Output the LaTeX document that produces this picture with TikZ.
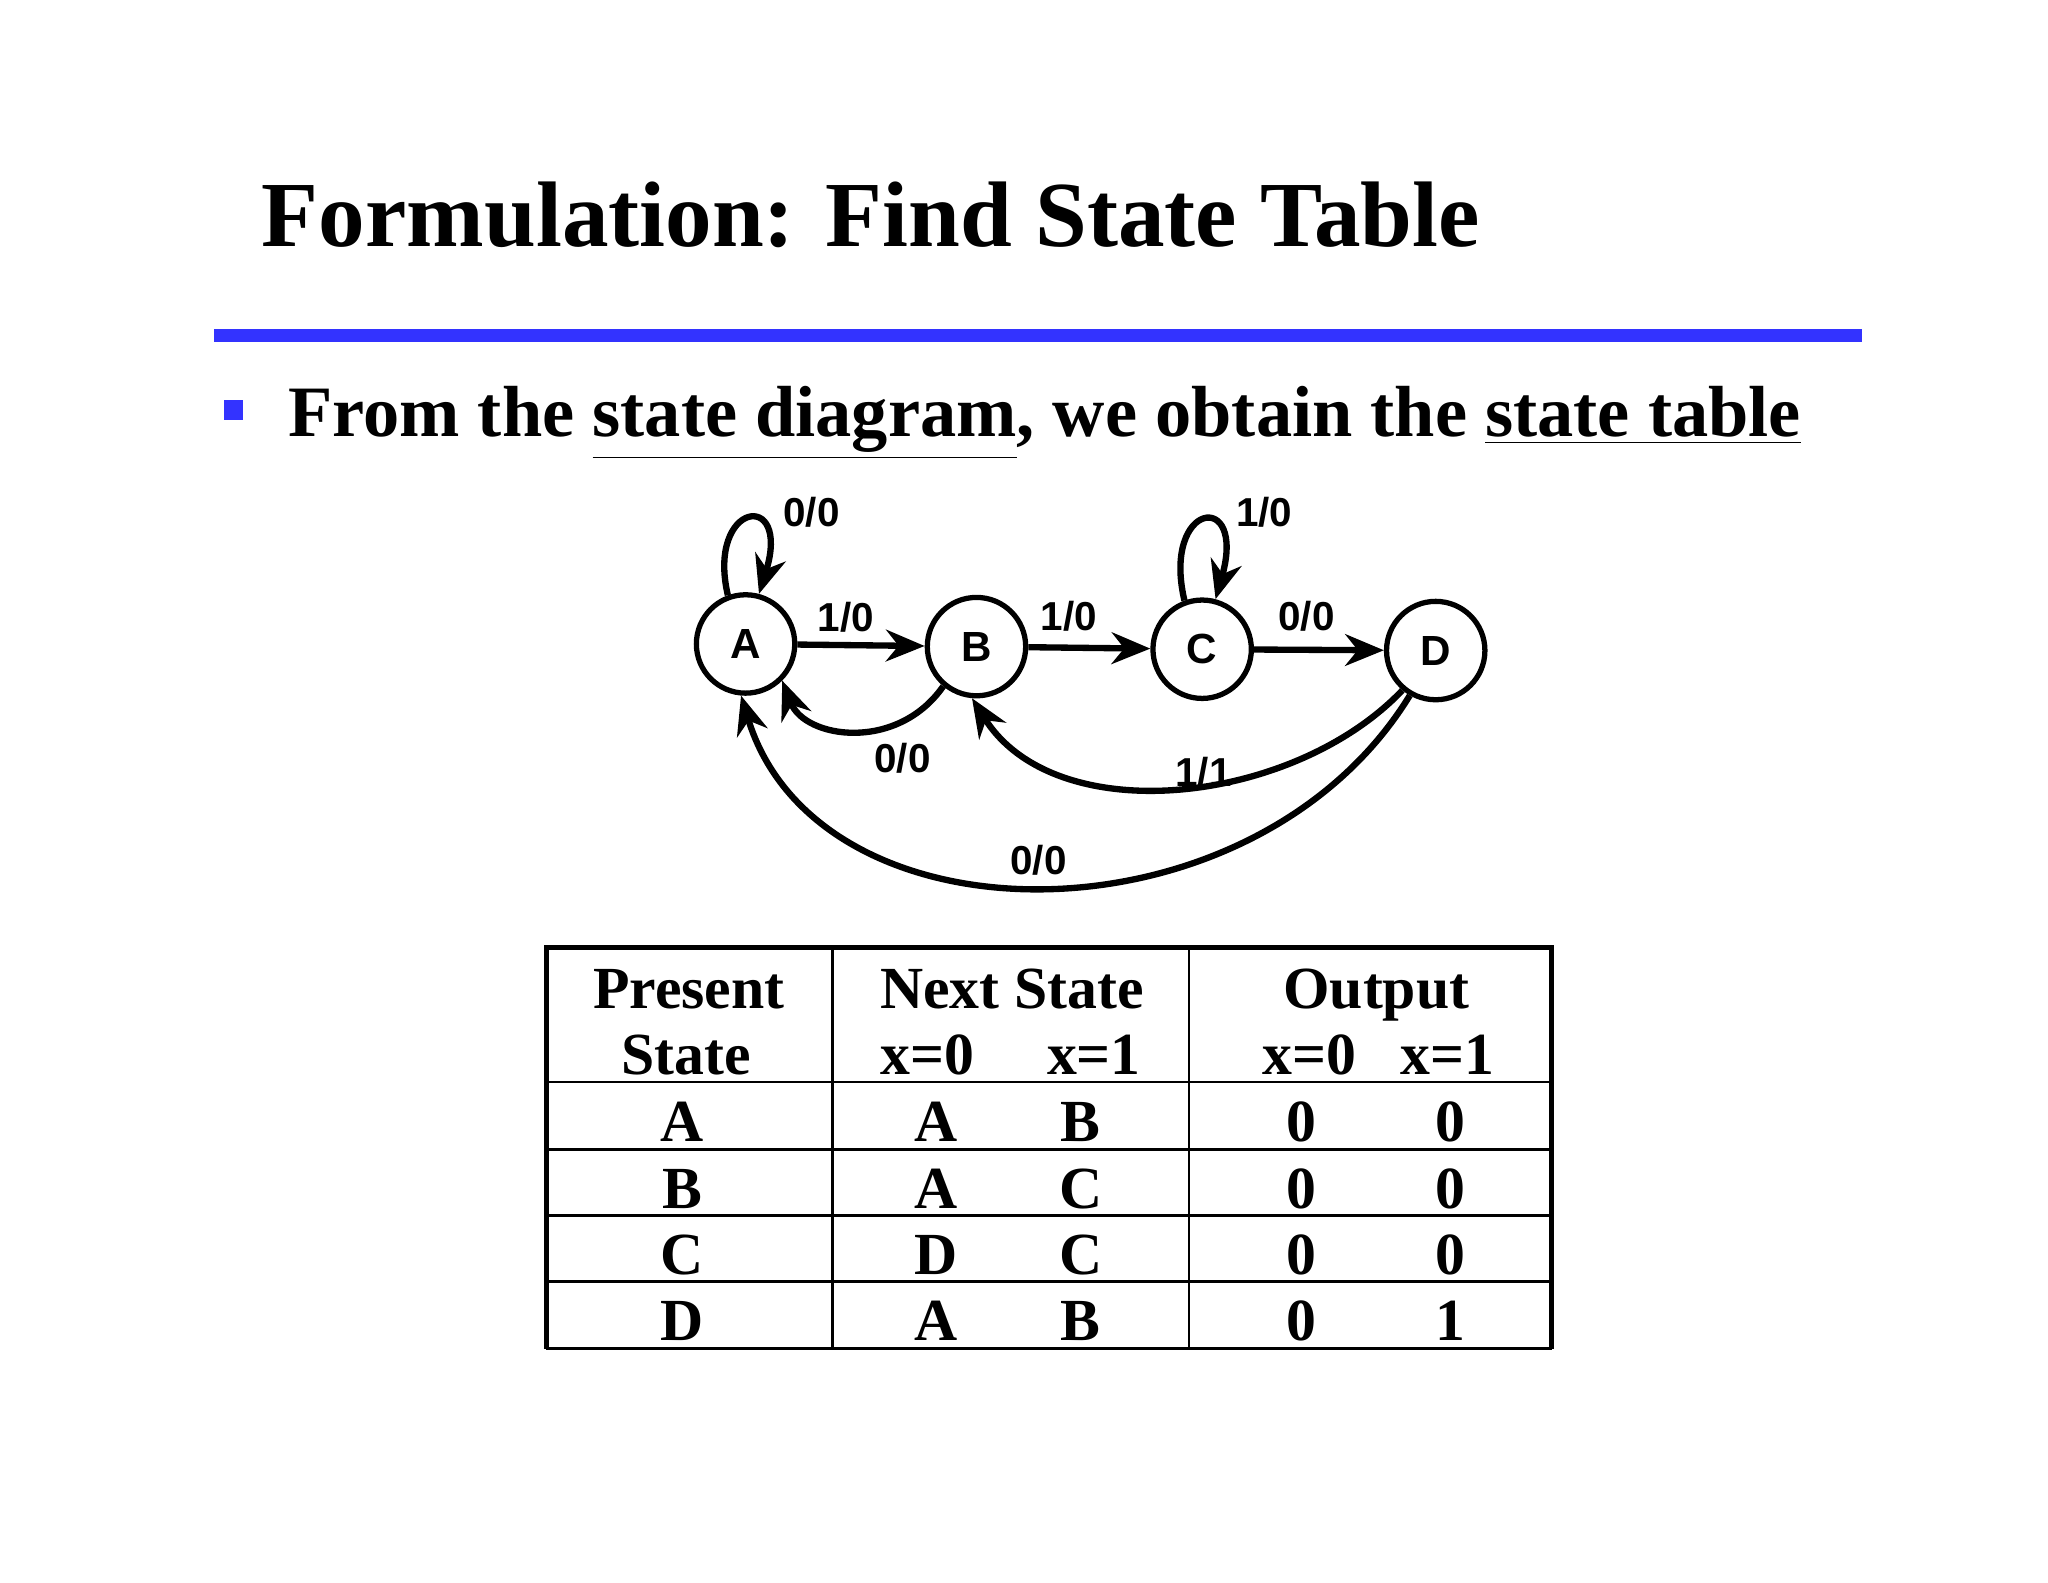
\documentclass[tikz,border=0pt]{standalone}
\usepackage{fontspec}
\setmainfont{Liberation Serif}
\newfontfamily\lsans{Liberation Sans}
\usetikzlibrary{arrows.meta}
\definecolor{myblue}{RGB}{51,51,255}
\newcommand{\myul}[1]{\underline{#1}}
\begin{document}
\begin{tikzpicture}[x=0.013196cm,y=-0.013196cm,
  st/.style={circle,draw,line width=1.5pt,minimum size=28pt,inner sep=0pt,font=\lsans\bfseries\fontsize{12}{12}\selectfont},
  lab/.style={font=\lsans\bfseries\fontsize{11.5}{12}\selectfont,inner sep=1pt},
  ed/.style={line width=1.8pt,-{Stealth[length=11pt,width=9pt]}},
  tt/.style={font=\bfseries\fontsize{17}{17}\selectfont,anchor=base,inner sep=0pt}]
\useasboundingbox (0,0) rectangle (1552,1199);
\node[anchor=base west,inner sep=0pt,font=\bfseries\fontsize{26.5}{27}\selectfont] (title) at (198,187) {Formulation: Find State Table};
\fill[myblue] (162,249) rectangle (1411,259);
\fill[myblue] (170,303) rectangle (184,318);
\node[anchor=base west,inner sep=0pt,font=\bfseries\fontsize{20.6}{21}\selectfont] (bul) at (218,331) {From the \myul{state diagram}, we obtain the \myul{state table}};
% states
\node[st] (A) at (565,488) {A};
\node[st] (B) at (740,490) {B};
\node[st] (C) at (911,492) {C};
\node[st] (D) at (1088,493) {D};
\draw[ed] (A) -- (B);
\draw[ed] (B) -- (C);
\draw[ed] (C) -- (D);
\draw[ed] (A.110) .. controls (535,380) and (600,370) .. (A.75);
\draw[ed] (C.110) .. controls (880,380) and (945,370) .. (C.75);
\draw[ed] (B.230) .. controls (680,570) and (610,560) .. (A.-45);
\draw[ed] (D.230) .. controls (980,610) and (800,630) .. (B.-95);
\draw[ed] (D.-120) .. controls (950,720) and (620,720) .. (A.-95);
\node[lab] (l1) at (641,468) {1/0};
\node[lab] (l2) at (810,467) {1/0};
\node[lab] (l3) at (990,467) {0/0};
\node[lab] (l4) at (615,388) {0/0};
\node[lab] (l5) at (958,388) {1/0};
\node[lab] (l6) at (684,575) {0/0};
\node[lab] (l7) at (912,585) {1/1};
\node[lab] (l8) at (787,652) {0/0};
% table
\draw[line width=1.5pt] (414,1022) -- (414,718) -- (1176,718) -- (1176,1022);
\draw[line width=0.8pt] (414,1022) -- (1176,1022);
\foreach \y in {820,871,921,971} \draw[line width=0.8pt] (414,\y) -- (1176,\y);
\draw[line width=0.8pt] (631,718) -- (631,1022);
\draw[line width=0.8pt] (901,718) -- (901,1022);
\node[tt] at (522,764) {Present};
\node[tt] at (520,814) {State};
\node[tt] at (767,764) {Next State};
\node[tt] at (703,814) {x=0};
\node[tt] at (829,814) {x=1};
\node[tt] at (1043,764) {Output};
\node[tt] at (992,814) {x=0};
\node[tt] at (1097,814) {x=1};
\foreach \y/\p/\a/\b/\o/\q in {865/A/A/B/0/0,916/B/A/C/0/0,966/C/D/C/0/0,1016/D/A/B/0/1}{
  \node[tt] at (517,\y) {\p};
  \node[tt] at (709,\y) {\a};
  \node[tt] at (819,\y) {\b};
  \node[tt] at (986,\y) {\o};
  \node[tt] at (1099,\y) {\q};
}
\end{tikzpicture}
\end{document}
